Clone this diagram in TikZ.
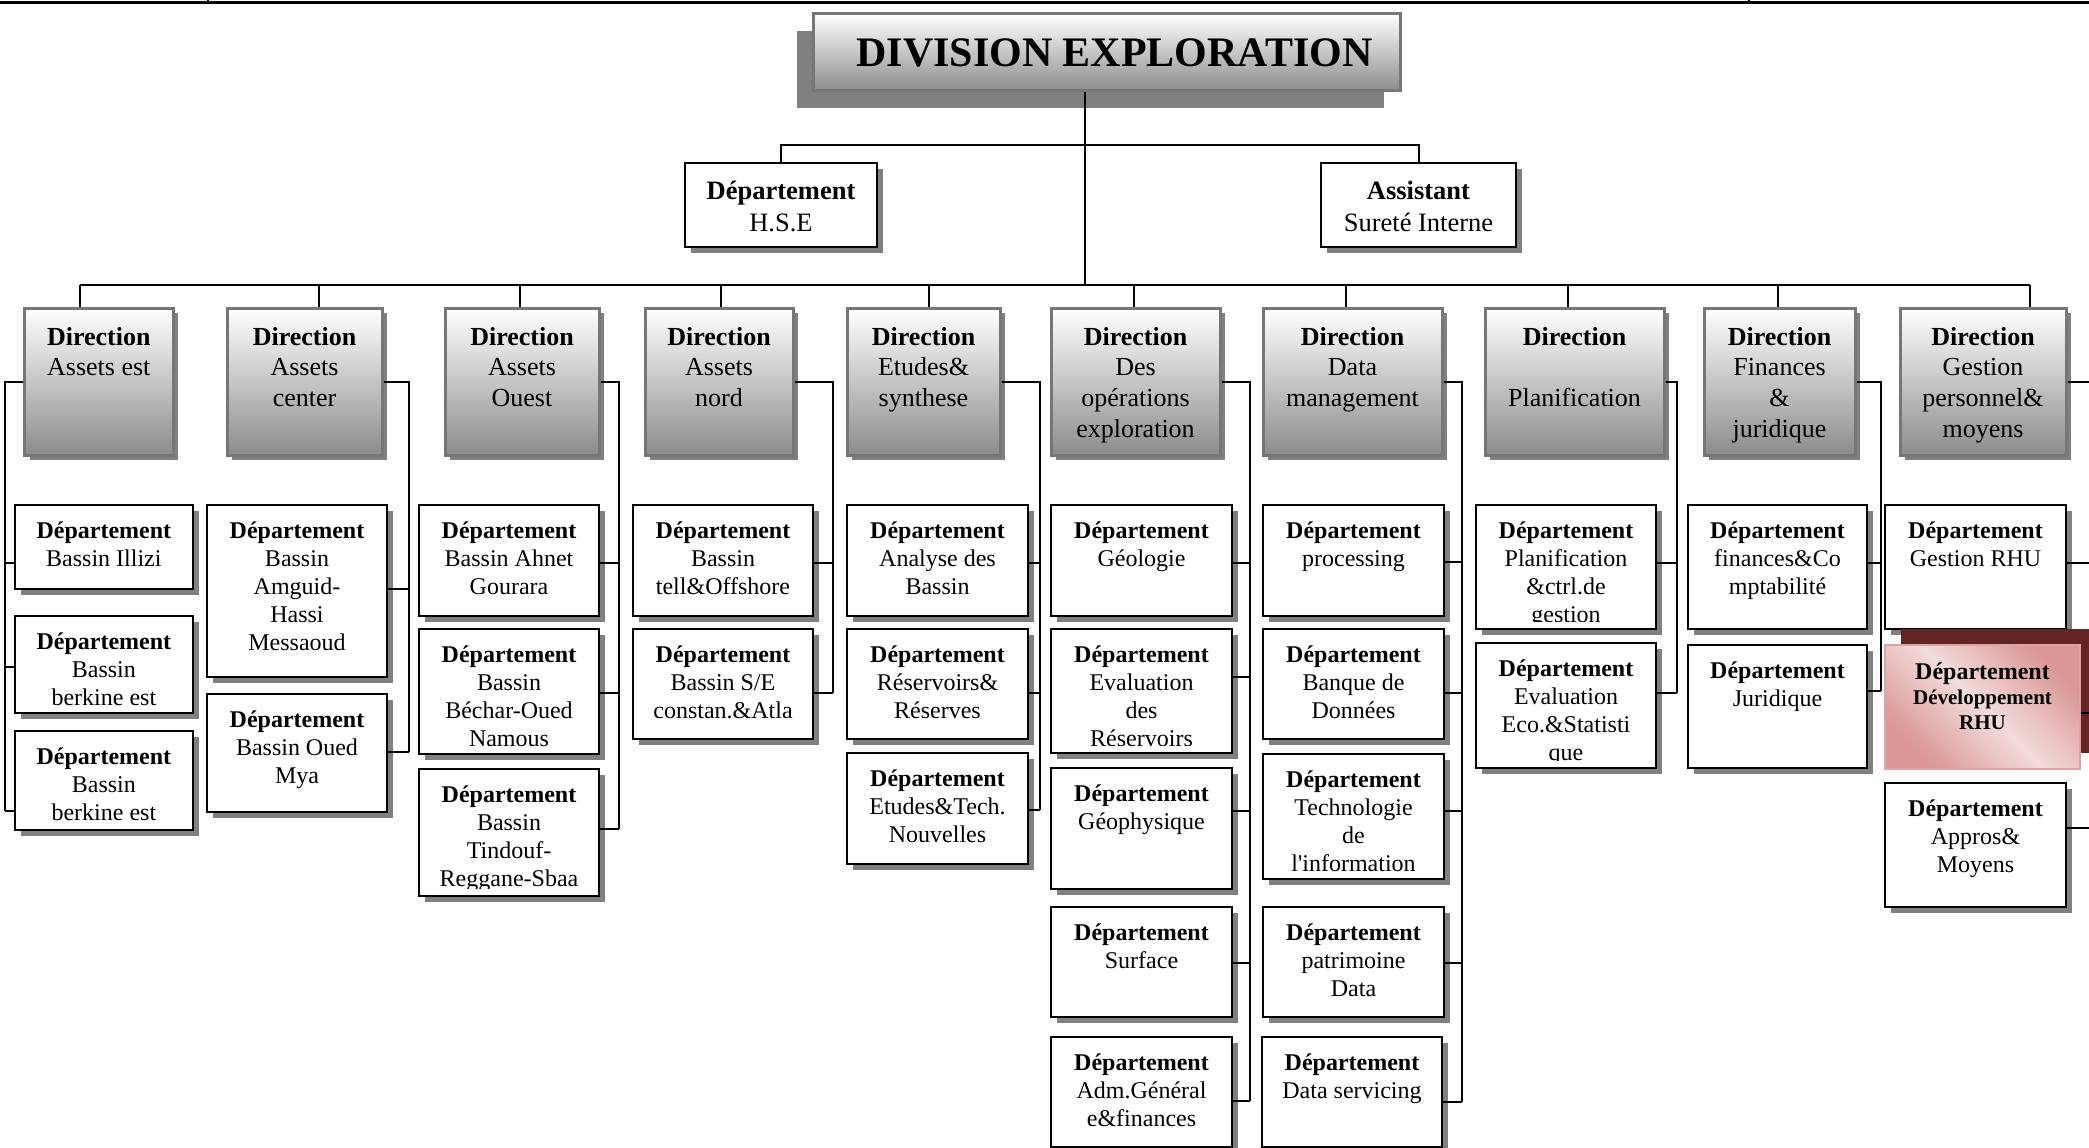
\documentclass[tikz,border=0pt]{standalone}
\usepackage{fontspec}
\setmainfont{Liberation Serif}
\usetikzlibrary{fit,shadows}

\definecolor{shade50}{RGB}{128,128,128}
\definecolor{dirline}{RGB}{118,118,118}
\definecolor{dirlow}{RGB}{140,140,140}
\definecolor{rhudark}{RGB}{217,150,148}
\definecolor{rhulight}{RGB}{242,220,219}
\definecolor{rhuline}{RGB}{222,164,162}
\definecolor{rhushadow}{RGB}{99,37,35}

% strut fixing the top of the first text line
\newcommand\lnstrut{\rule{0pt}{20pt}}
% text of a box, hung from its top edge and clipped to its inner area
% #1 text style, #2 box name, #3 drop from the top edge, #4 text
\newcommand\intext[4]{%
  \begin{scope}
    \clip ([xshift=3pt,yshift=-3pt]#2.north west) rectangle ([xshift=-3pt,yshift=9pt]#2.south east);
    \node[#1, anchor=north] (#2-t) at ([yshift=-#3]#2.north) {#4};
  \end{scope}}

\begin{document}
\begin{tikzpicture}[x=1pt,y=-1pt,
  conn/.style={draw=black, line width=2pt},
  deptbox/.style={draw=black, line width=2.4pt, fill=white, inner sep=0pt,
    drop shadow={shadow xshift=6pt, shadow yshift=-6pt, fill=shade50, opacity=1}},
  dirbox/.style={draw=dirline, line width=3pt, top color=white, bottom color=dirlow, inner sep=0pt,
    drop shadow={shadow xshift=5pt, shadow yshift=-5pt, fill=shade50, opacity=1}},
  titlebox/.style={draw=dirline, line width=3pt, top color=white, bottom color=dirlow, inner sep=0pt,
    drop shadow={shadow xshift=-16pt, shadow yshift=-17pt, fill=shade50, opacity=1}},
  rhubox/.style={draw=rhuline, line width=2pt, top color=rhudark, bottom color=rhudark,
    middle color=rhulight, shading angle=-45, inner sep=0pt,
    drop shadow={shadow xshift=16pt, shadow yshift=16pt, fill=rhushadow, opacity=1}},
  dtext/.style={font=\fontsize{24}{28}\selectfont, align=center, inner sep=0pt, execute at begin node=\lnstrut},
  rtext/.style={font=\fontsize{26}{30.6}\selectfont, align=center, inner sep=0pt, execute at begin node=\lnstrut},
  htext/.style={font=\fontsize{26.5}{32}\selectfont, align=center, inner sep=0pt, execute at begin node=\lnstrut},
  xtext/.style={font=\fontsize{21}{25}\selectfont\bfseries, align=center, inner sep=0pt, execute at begin node=\lnstrut},
]
\useasboundingbox (0,0) rectangle (2089,1148);

% page rule at the top
\coordinate (ruleL) at (0,2.5);
\coordinate (ruleR) at (2089,2.5);
\draw[line width=2.2pt] (ruleL) -- (ruleR);
\coordinate (tickA) at (208,0);
\coordinate (tickB) at (1749,0);
\draw[line width=1.5pt] (tickA) -- (tickA |- ruleL);
\draw[line width=1.5pt] (tickB) -- (tickB |- ruleL);

% head of the division
\node[titlebox, fit={(813,14) (1400,91)}] (title) {};
\node[font=\fontsize{42}{50}\selectfont\bfseries, inner sep=0pt] (title-t) at ([xshift=8pt]title.center) {DIVISION EXPLORATION};

% staff units
\node[deptbox, fit={(685,163) (877,247)}] (hse) {};
\intext{htext}{hse}{19pt}{\textbf{Département}\\H.S.E}
\node[deptbox, fit={(1321,163) (1516,247)}] (asst) {};
\intext{htext}{asst}{19pt}{\textbf{Assistant}\\Sureté Interne}

% directions
\node[dirbox, fit={(24.6,308) (173,455)}] (d1) {};
\node[dirbox, fit={(227,308) (382,455)}] (d2) {};
\node[dirbox, fit={(445,308) (599,455)}] (d3) {};
\node[dirbox, fit={(645,308) (793,455)}] (d4) {};
\node[dirbox, fit={(847,308) (1000,455)}] (d5) {};
\node[dirbox, fit={(1051,308) (1220,455)}] (d6) {};
\node[dirbox, fit={(1263,308) (1442,455)}] (d7) {};
\node[dirbox, fit={(1485,308) (1664,455)}] (d8) {};
\node[dirbox, fit={(1704,308) (1855,455)}] (d9) {};
\node[dirbox, fit={(1900,308) (2066,455)}] (d10) {};
\intext{rtext}{d1}{20.5pt}{\textbf{Direction}\\Assets est}
\intext{rtext}{d2}{20.5pt}{\textbf{Direction}\\Assets\\center}
\intext{rtext}{d3}{20.5pt}{\textbf{Direction}\\Assets\\Ouest}
\intext{rtext}{d4}{20.5pt}{\textbf{Direction}\\Assets\\nord}
\intext{rtext}{d5}{20.5pt}{\textbf{Direction}\\Etudes\&\\synthese}
\intext{rtext}{d6}{20.5pt}{\textbf{Direction}\\Des\\opérations\\exploration}
\intext{rtext}{d7}{20.5pt}{\textbf{Direction}\\Data\\management}
\intext{rtext}{d8}{20.5pt}{\textbf{Direction}\\\mbox{}\\Planification}
\intext{rtext}{d9}{20.5pt}{\textbf{Direction}\\Finances\\\&\\juridique}
\intext{rtext}{d10}{20.5pt}{\textbf{Direction}\\Gestion\\personnel\&\\moyens}

% departments, column 1
\node[deptbox, fit={(14.7,505) (193,589)}] (k11) {};
\node[deptbox, fit={(14.7,616) (193,713)}] (k12) {};
\node[deptbox, fit={(14.7,731) (193,830)}] (k13) {};
\intext{dtext}{k11}{17.4pt}{\textbf{Département}\\Bassin Illizi}
\intext{dtext}{k12}{17.4pt}{\textbf{Département}\\Bassin\\berkine est}
\intext{dtext}{k13}{17.4pt}{\textbf{Département}\\Bassin\\berkine est}

% column 2
\node[deptbox, fit={(207,505) (387,677)}] (k21) {};
\node[deptbox, fit={(207,694) (387,812)}] (k22) {};
\intext{dtext}{k21}{17.4pt}{\textbf{Département}\\Bassin\\Amguid-\\Hassi\\Messaoud}
\intext{dtext}{k22}{17.4pt}{\textbf{Département}\\Bassin Oued\\Mya}

% column 3
\node[deptbox, fit={(419,505) (599,616)}] (k31) {};
\node[deptbox, fit={(419,629) (599,754)}] (k32) {};
\node[deptbox, fit={(419,769) (599,896)}] (k33) {};
\intext{dtext}{k31}{17.4pt}{\textbf{Département}\\Bassin Ahnet\\Gourara}
\intext{dtext}{k32}{17.4pt}{\textbf{Département}\\Bassin\\Béchar-Oued\\Namous}
\intext{dtext}{k33}{17.4pt}{\textbf{Département}\\Bassin\\Tindouf-\\Reggane-Sbaa}

% column 4
\node[deptbox, fit={(633,505) (813,616)}] (k41) {};
\node[deptbox, fit={(633,629) (813,739)}] (k42) {};
\intext{dtext}{k41}{17.4pt}{\textbf{Département}\\Bassin\\tell\&Offshore}
\intext{dtext}{k42}{17.4pt}{\textbf{Département}\\Bassin S/E\\constan.\&Atla}

% column 5
\node[deptbox, fit={(847,505) (1028,616)}] (k51) {};
\node[deptbox, fit={(847,629) (1028,739)}] (k52) {};
\node[deptbox, fit={(847,753) (1028,864)}] (k53) {};
\intext{dtext}{k51}{17.4pt}{\textbf{Département}\\Analyse des\\Bassin}
\intext{dtext}{k52}{17.4pt}{\textbf{Département}\\Réservoirs\&\\Réserves}
\intext{dtext}{k53}{17.4pt}{\textbf{Département}\\Etudes\&Tech.\\Nouvelles}

% column 6
\node[deptbox, fit={(1051,505) (1232,616)}] (k61) {};
\node[deptbox, fit={(1051,629) (1232,753)}] (k62) {};
\node[deptbox, fit={(1051,768) (1232,889)}] (k63) {};
\node[deptbox, fit={(1051,907) (1232,1017)}] (k64) {};
\node[deptbox, fit={(1051,1037) (1232,1147)}] (k65) {};
\intext{dtext}{k61}{17.4pt}{\textbf{Département}\\Géologie}
\intext{dtext}{k62}{17.4pt}{\textbf{Département}\\Evaluation\\des\\Réservoirs}
\intext{dtext}{k63}{17.4pt}{\textbf{Département}\\Géophysique}
\intext{dtext}{k64}{17.4pt}{\textbf{Département}\\Surface}
\intext{dtext}{k65}{17.4pt}{\textbf{Département}\\Adm.Général\\e\&finances}

% column 7
\node[deptbox, fit={(1263,505) (1444,616)}] (k71) {};
\node[deptbox, fit={(1263,629) (1444,739)}] (k72) {};
\node[deptbox, fit={(1263,754) (1444,879)}] (k73) {};
\node[deptbox, fit={(1263,907) (1444,1017)}] (k74) {};
\node[deptbox, fit={(1262,1037) (1442,1147)}] (k75) {};
\intext{dtext}{k71}{17.4pt}{\textbf{Département}\\processing}
\intext{dtext}{k72}{17.4pt}{\textbf{Département}\\Banque de\\Données}
\intext{dtext}{k73}{17.4pt}{\textbf{Département}\\Technologie\\de\\l\textquotesingle information}
\intext{dtext}{k74}{17.4pt}{\textbf{Département}\\patrimoine\\Data}
\intext{dtext}{k75}{17.4pt}{\textbf{Département}\\Data servicing}

% column 8
\node[deptbox, fit={(1476,505) (1656,629)}] (k81) {};
\node[deptbox, fit={(1476,643) (1656,768)}] (k82) {};
\intext{dtext}{k81}{17.4pt}{\textbf{Département}\\Planification\\\&ctrl.de\\gestion}
\intext{dtext}{k82}{17.4pt}{\textbf{Département}\\Evaluation\\Eco.\&Statisti\\que}

% column 9
\node[deptbox, fit={(1688,505) (1867,629)}] (k91) {};
\node[deptbox, fit={(1688,645) (1867,768)}] (k92) {};
\intext{dtext}{k91}{17.4pt}{\textbf{Département}\\finances\&Co\\mptabilité}
\intext{dtext}{k92}{17.4pt}{\textbf{Département}\\Juridique}

% column 10
\node[deptbox, fit={(1885,505) (2066,629)}] (k101) {};
\node[rhubox, fit={(1885,645) (2080,769)}] (k102) {};
\node[deptbox, fit={(1885,783) (2066,907)}] (k103) {};
\intext{dtext}{k101}{17.4pt}{\textbf{Département}\\Gestion RHU}
\intext{xtext}{k102}{19pt}{{\fontsize{24}{25}\selectfont Département}\\Développement\\RHU}
\intext{dtext}{k103}{17.4pt}{\textbf{Département}\\Appros\&\\Moyens}

% ---- connectors ----
\coordinate (mid) at (1085,285);
\coordinate (hb) at (1085,145);
\draw[conn] (title.south -| mid) -- (mid);
\draw[conn] (hse.north) |- (hb) -| (asst.north);
\coordinate (barL) at (80,285);
\coordinate (barR) at (2030,285);
\draw[conn] (barL) -- (barR);
\foreach \i/\x in {1/80, 2/319, 3/520, 4/721, 5/929, 6/1134, 7/1346, 8/1568, 9/1778, 10/2030} {
  \coordinate (t\i) at (\x,285);
  \draw[conn] (t\i) -- (t\i |- d\i.north);
}

% column 1: bus on the left
\coordinate (e11) at (4.5,563);
\coordinate (e12) at (4.5,667);
\coordinate (e13) at (4.5,811);
\draw[conn] (d1.west) -| (e13);
\foreach \j in {11,12,13} \draw[conn] (e\j) -- (e\j -| k\j.west);

% columns 2 to 9: bus on the right
\coordinate (e21) at (408.5,589);
\coordinate (e22) at (408.5,752);
\draw[conn] (d2.east) -| (e22);
\foreach \j in {21,22} \draw[conn] (e\j -| k\j.east) -- (e\j);

\coordinate (e31) at (619,563);
\coordinate (e32) at (619,693);
\coordinate (e33) at (619,829);
\draw[conn] (d3.east) -| (e33);
\foreach \j in {31,32,33} \draw[conn] (e\j -| k\j.east) -- (e\j);

\coordinate (e41) at (833,563);
\coordinate (e42) at (833,693);
\draw[conn] (d4.east) -| (e42);
\foreach \j in {41,42} \draw[conn] (e\j -| k\j.east) -- (e\j);

\coordinate (e51) at (1040,563);
\coordinate (e52) at (1040,693);
\coordinate (e53) at (1040,810);
\draw[conn] (d5.east) -| (e53);
\foreach \j in {51,52,53} \draw[conn] (e\j -| k\j.east) -- (e\j);

\coordinate (e61) at (1250,563);
\coordinate (e62) at (1250,677);
\coordinate (e63) at (1250,811);
\coordinate (e64) at (1250,963);
\coordinate (e65) at (1250,1101);
\draw[conn] (d6.east) -| (e65);
\foreach \j in {61,62,63,64,65} \draw[conn] (e\j -| k\j.east) -- (e\j);

\coordinate (e71) at (1462,562);
\coordinate (e72) at (1462,693);
\coordinate (e73) at (1462,811);
\coordinate (e74) at (1462,963);
\coordinate (e75) at (1462,1102);
\draw[conn] (d7.east) -| (e75);
\foreach \j in {71,72,73,74,75} \draw[conn] (e\j -| k\j.east) -- (e\j);

\coordinate (e81) at (1677,563);
\coordinate (e82) at (1677,693);
\draw[conn] (d8.east) -| (e82);
\foreach \j in {81,82} \draw[conn] (e\j -| k\j.east) -- (e\j);

\coordinate (e91) at (1881,563);
\coordinate (e92) at (1881,691);
\draw[conn] (d9.east) -| (e92);
\foreach \j in {91,92} \draw[conn] (e\j -| k\j.east) -- (e\j);

% column 10: bus runs past the right edge
\coordinate (e100) at (2089,378);
\coordinate (e101) at (2089,563);
\coordinate (e102) at (2089,713);
\coordinate (e103) at (2089,828);
\draw[conn] (d10.east) -- (d10.east -| e100);
\foreach \j in {101,102,103} \draw[conn] (e\j -| k\j.east) -- (e\j);
\end{tikzpicture}
\end{document}
